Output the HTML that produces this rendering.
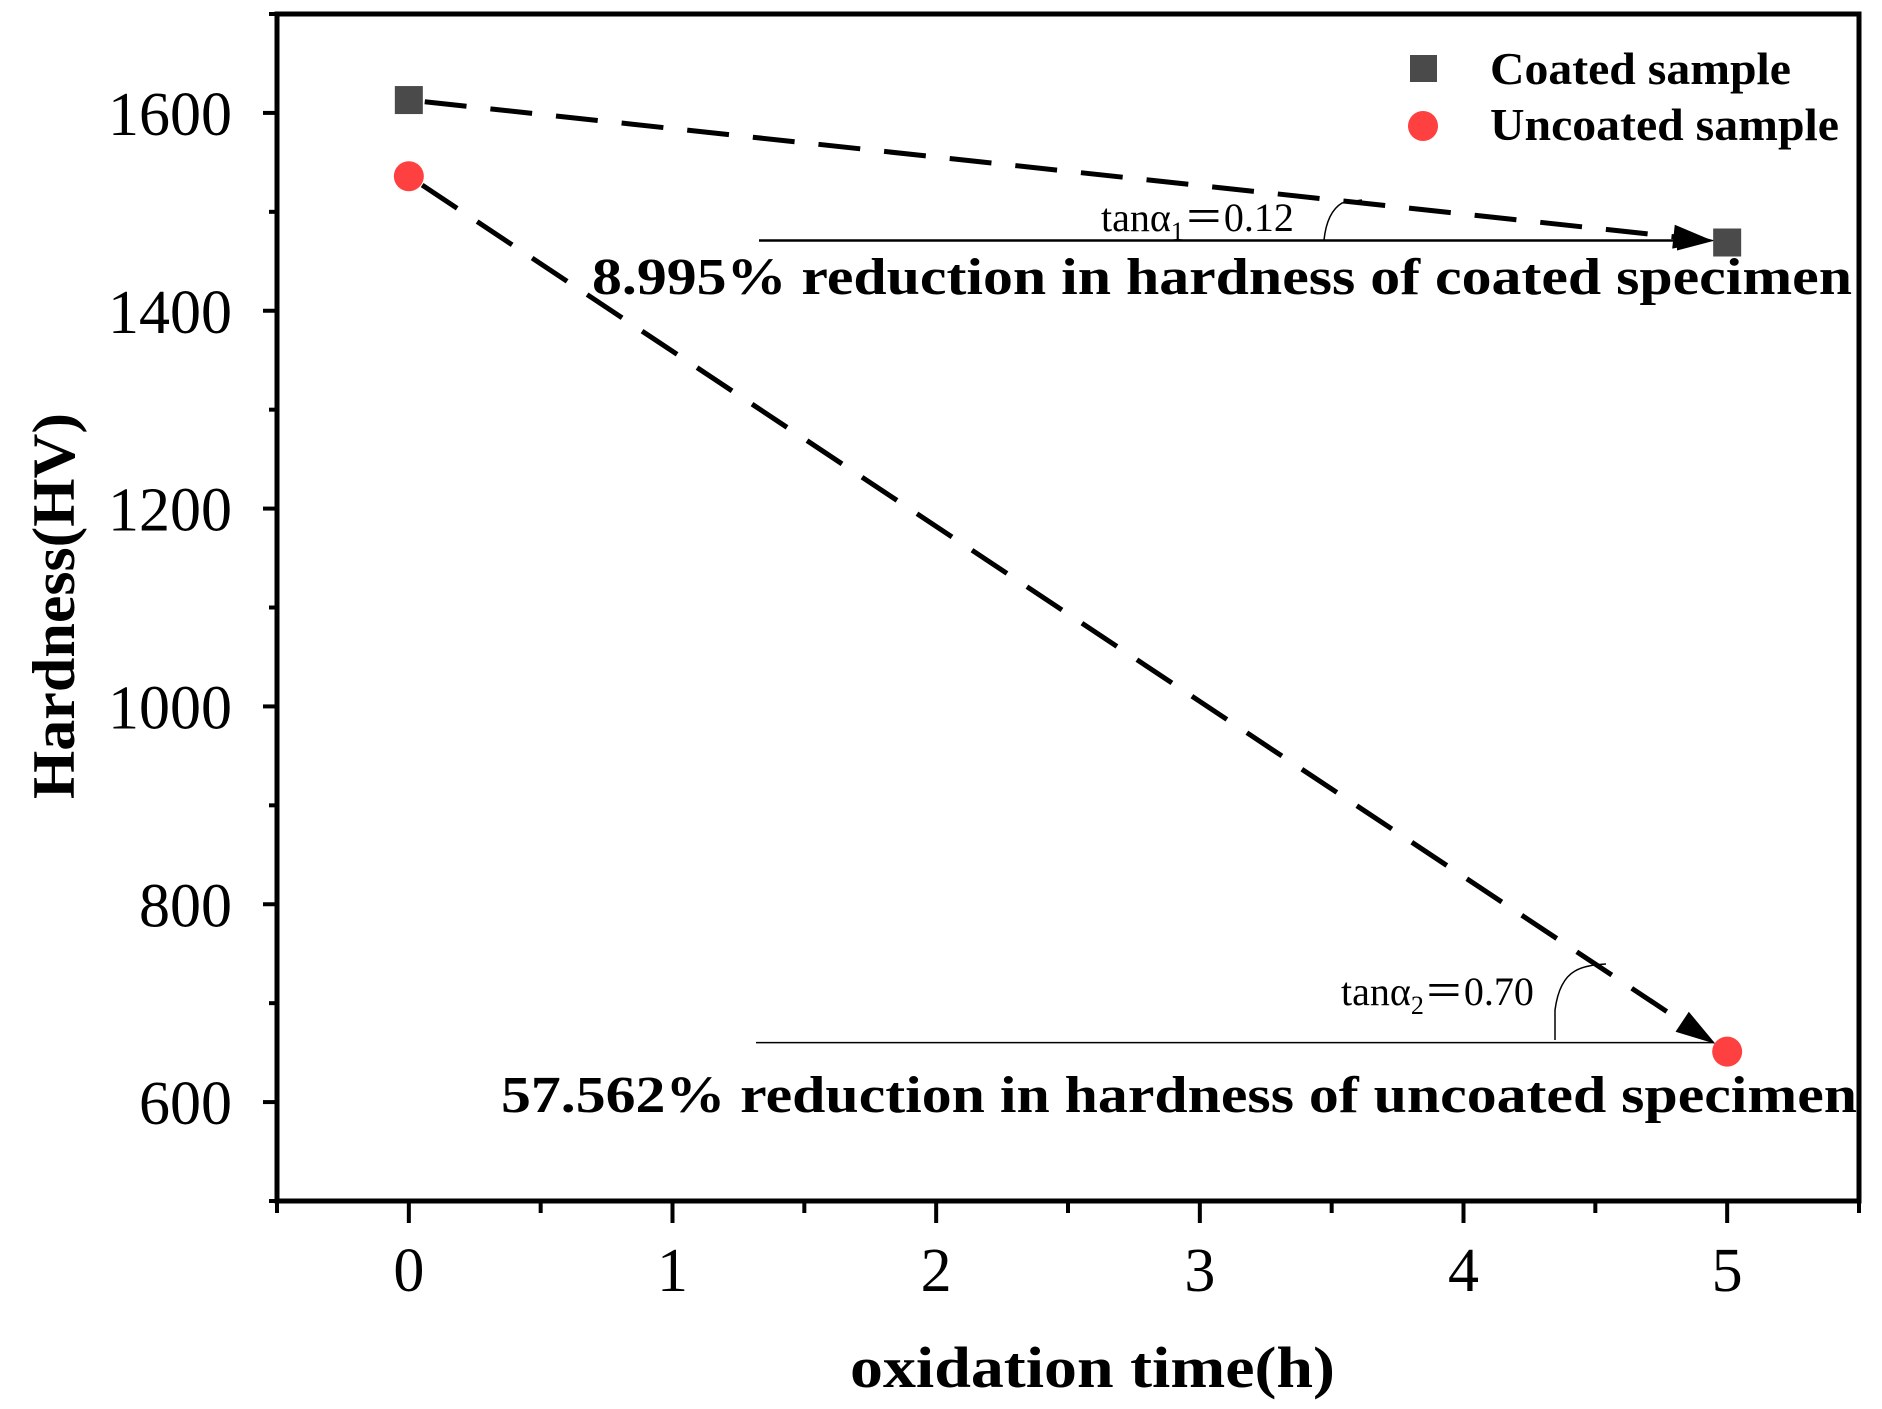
<!DOCTYPE html>
<html><head><meta charset="utf-8"><style>
html,body{margin:0;padding:0;background:#fff;}
svg{display:block;font-family:"Liberation Serif",serif;}
</style></head><body>
<svg id="chart" width="1882" height="1409" viewBox="0 0 1882 1409">
<g id="axes"></g>
<g id="marks"></g>
</svg>
<script>
const times = [0, 5];
const coatedValues = [1613, 1469];
const uncoatedValues = [1536, 651];
const xTicks = [0, 1, 2, 3, 4, 5];
const yTicks = [600, 800, 1000, 1200, 1400, 1600];

const L = 277, R = 1859, T = 14, B = 1201;
const xMin = -0.5, xMax = 5.5, yMin = 500, yMax = 1700;
const sx = v => L + (v - xMin) / (xMax - xMin) * (R - L);
const sy = v => B - (v - yMin) / (yMax - yMin) * (B - T);
const NS = "http://www.w3.org/2000/svg";
const axes = document.getElementById('axes');
const marks = document.getElementById('marks');
function mk(tag, attrs, parent, text) {
  const e = document.createElementNS(NS, tag);
  for (const k in attrs) e.setAttribute(k, attrs[k]);
  if (text !== undefined) e.textContent = text;
  parent.appendChild(e);
  return e;
}

let f = mk('rect', {x: L, y: T, width: R - L, height: B - T, fill: 'none', stroke: '#000', 'stroke-width': 5}, axes);



for (let v = xMin; v <= xMax + 1e-9; v += 0.5) {
  const major = Math.abs(v - Math.round(v)) < 1e-9;
  const t = mk('line', {x1: sx(v), x2: sx(v), y1: B, y2: B + (major ? 22 : 12), stroke: '#000', 'stroke-width': 4}, axes);
  
  
}
xTicks.forEach(v => {
  const t = mk('text', {x: sx(v), y: 1291, 'font-size': 62, 'text-anchor': 'middle'}, axes, String(v));
  
  
});
for (let v = yMin; v <= yMax; v += 100) {
  const major = v % 200 === 0;
  const t = mk('line', {x1: L, x2: L - (major ? 14 : 8), y1: sy(v), y2: sy(v), stroke: '#000', 'stroke-width': 4}, axes);
  
  
}
yTicks.forEach(v => {
  const t = mk('text', {x: 232, y: sy(v) + 22, 'font-size': 62, 'text-anchor': 'end'}, axes, String(v));
  
  
});
let xt = mk('text', {x: 850, y: 1387, 'font-size': 58, 'font-weight': 'bold', textLength: 485, lengthAdjust: 'spacingAndGlyphs'}, axes, 'oxidation time(h)');


let yt = mk('text', {x: 0, y: 0, 'font-size': 60, 'font-weight': 'bold', 'text-anchor': 'middle', transform: 'translate(74,606) rotate(-90)', textLength: 386, lengthAdjust: 'spacingAndGlyphs'}, axes, 'Hardness(HV)');



function arrowLine(vals, name, shrink) {
  const x1 = sx(times[0]), y1 = sy(vals[0]), x2 = sx(times[1]), y2 = sy(vals[1]);
  const d = Math.hypot(x2 - x1, y2 - y1), ux = (x2 - x1) / d, uy = (y2 - y1) / d;
  const ex = x2 - ux * shrink, ey = y2 - uy * shrink;
  const ln = mk('line', {x1: x1 + ux * 16, y1: y1 + uy * 16, x2: ex - ux * 36, y2: ey - uy * 36, stroke: '#000', 'stroke-width': 5, 'stroke-dasharray': '42 24'}, marks);
  
  
  const px = -uy, py = ux;
  const bx = ex - ux * 40, by = ey - uy * 40;
  const a = mk('polygon', {points: `${ex},${ey} ${bx + px * 12},${by + py * 12} ${bx - px * 12},${by - py * 12}`, fill: '#000'}, marks);
  
  
}
arrowLine(coatedValues, 'coated', 14);
arrowLine(uncoatedValues, 'uncoated', 14);

const hy1 = sy(coatedValues[1]) - 2;
let h1 = mk('line', {x1: 759, x2: 1700, y1: hy1, y2: hy1, stroke: '#000', 'stroke-width': 2.5}, marks);


let ha = mk('polygon', {points: `1715,${hy1} 1677,${hy1 - 10} 1677,${hy1 + 10}`, fill: '#000'}, marks);


const hy2 = sy(uncoatedValues[1]) - 9;
let h2 = mk('line', {x1: 756, x2: 1714, y1: hy2, y2: hy2, stroke: '#000', 'stroke-width': 1.5}, marks);



let a1 = mk('path', {d: 'M1324,240 Q1327,212 1342,203 L1362,200', fill: 'none', stroke: '#000', 'stroke-width': 1.5}, marks);


let a2 = mk('path', {d: 'M1555,1040 L1555,1010 Q1559,980 1575,971 Q1585,965 1606,964', fill: 'none', stroke: '#000', 'stroke-width': 1.5}, marks);



let t1 = mk('text', {x: 1101, y: 231, 'font-size': 40}, marks);


t1.innerHTML = 'tanα<tspan font-size="26" dy="9">1</tspan><tspan dy="-9">＝0.12</tspan>';
let t2 = mk('text', {x: 1341, y: 1005, 'font-size': 40}, marks);


t2.innerHTML = 'tanα<tspan font-size="26" dy="9">2</tspan><tspan dy="-9">＝0.70</tspan>';
let r1 = mk('text', {x: 592, y: 294, 'font-size': 52, 'font-weight': 'bold', textLength: 1260, lengthAdjust: 'spacingAndGlyphs'}, marks, '8.995% reduction in hardness of coated specimen');


let r2 = mk('text', {x: 501, y: 1112, 'font-size': 52, 'font-weight': 'bold', textLength: 1356, lengthAdjust: 'spacingAndGlyphs'}, marks, '57.562% reduction in hardness of uncoated specimen');



times.forEach((t, i) => {
  const s = mk('rect', {x: sx(t) - 14, y: sy(coatedValues[i]) - 14, width: 28, height: 28, fill: '#4a4a4a'}, marks);
  
  
  const c = mk('circle', {cx: sx(t), cy: sy(uncoatedValues[i]), r: 15, fill: '#ff4040'}, marks);
  
  
});

let ls = mk('rect', {x: 1410, y: 55, width: 27, height: 27, fill: '#4a4a4a'}, marks);


let lt1 = mk('text', {x: 1490, y: 84, 'font-size': 46, 'font-weight': 'bold', textLength: 301, lengthAdjust: 'spacingAndGlyphs'}, marks, 'Coated sample');


let lc = mk('circle', {cx: 1423, cy: 126, r: 15, fill: '#ff4040'}, marks);


let lt2 = mk('text', {x: 1490, y: 140, 'font-size': 46, 'font-weight': 'bold', textLength: 349, lengthAdjust: 'spacingAndGlyphs'}, marks, 'Uncoated sample');


</script>
</body></html>
